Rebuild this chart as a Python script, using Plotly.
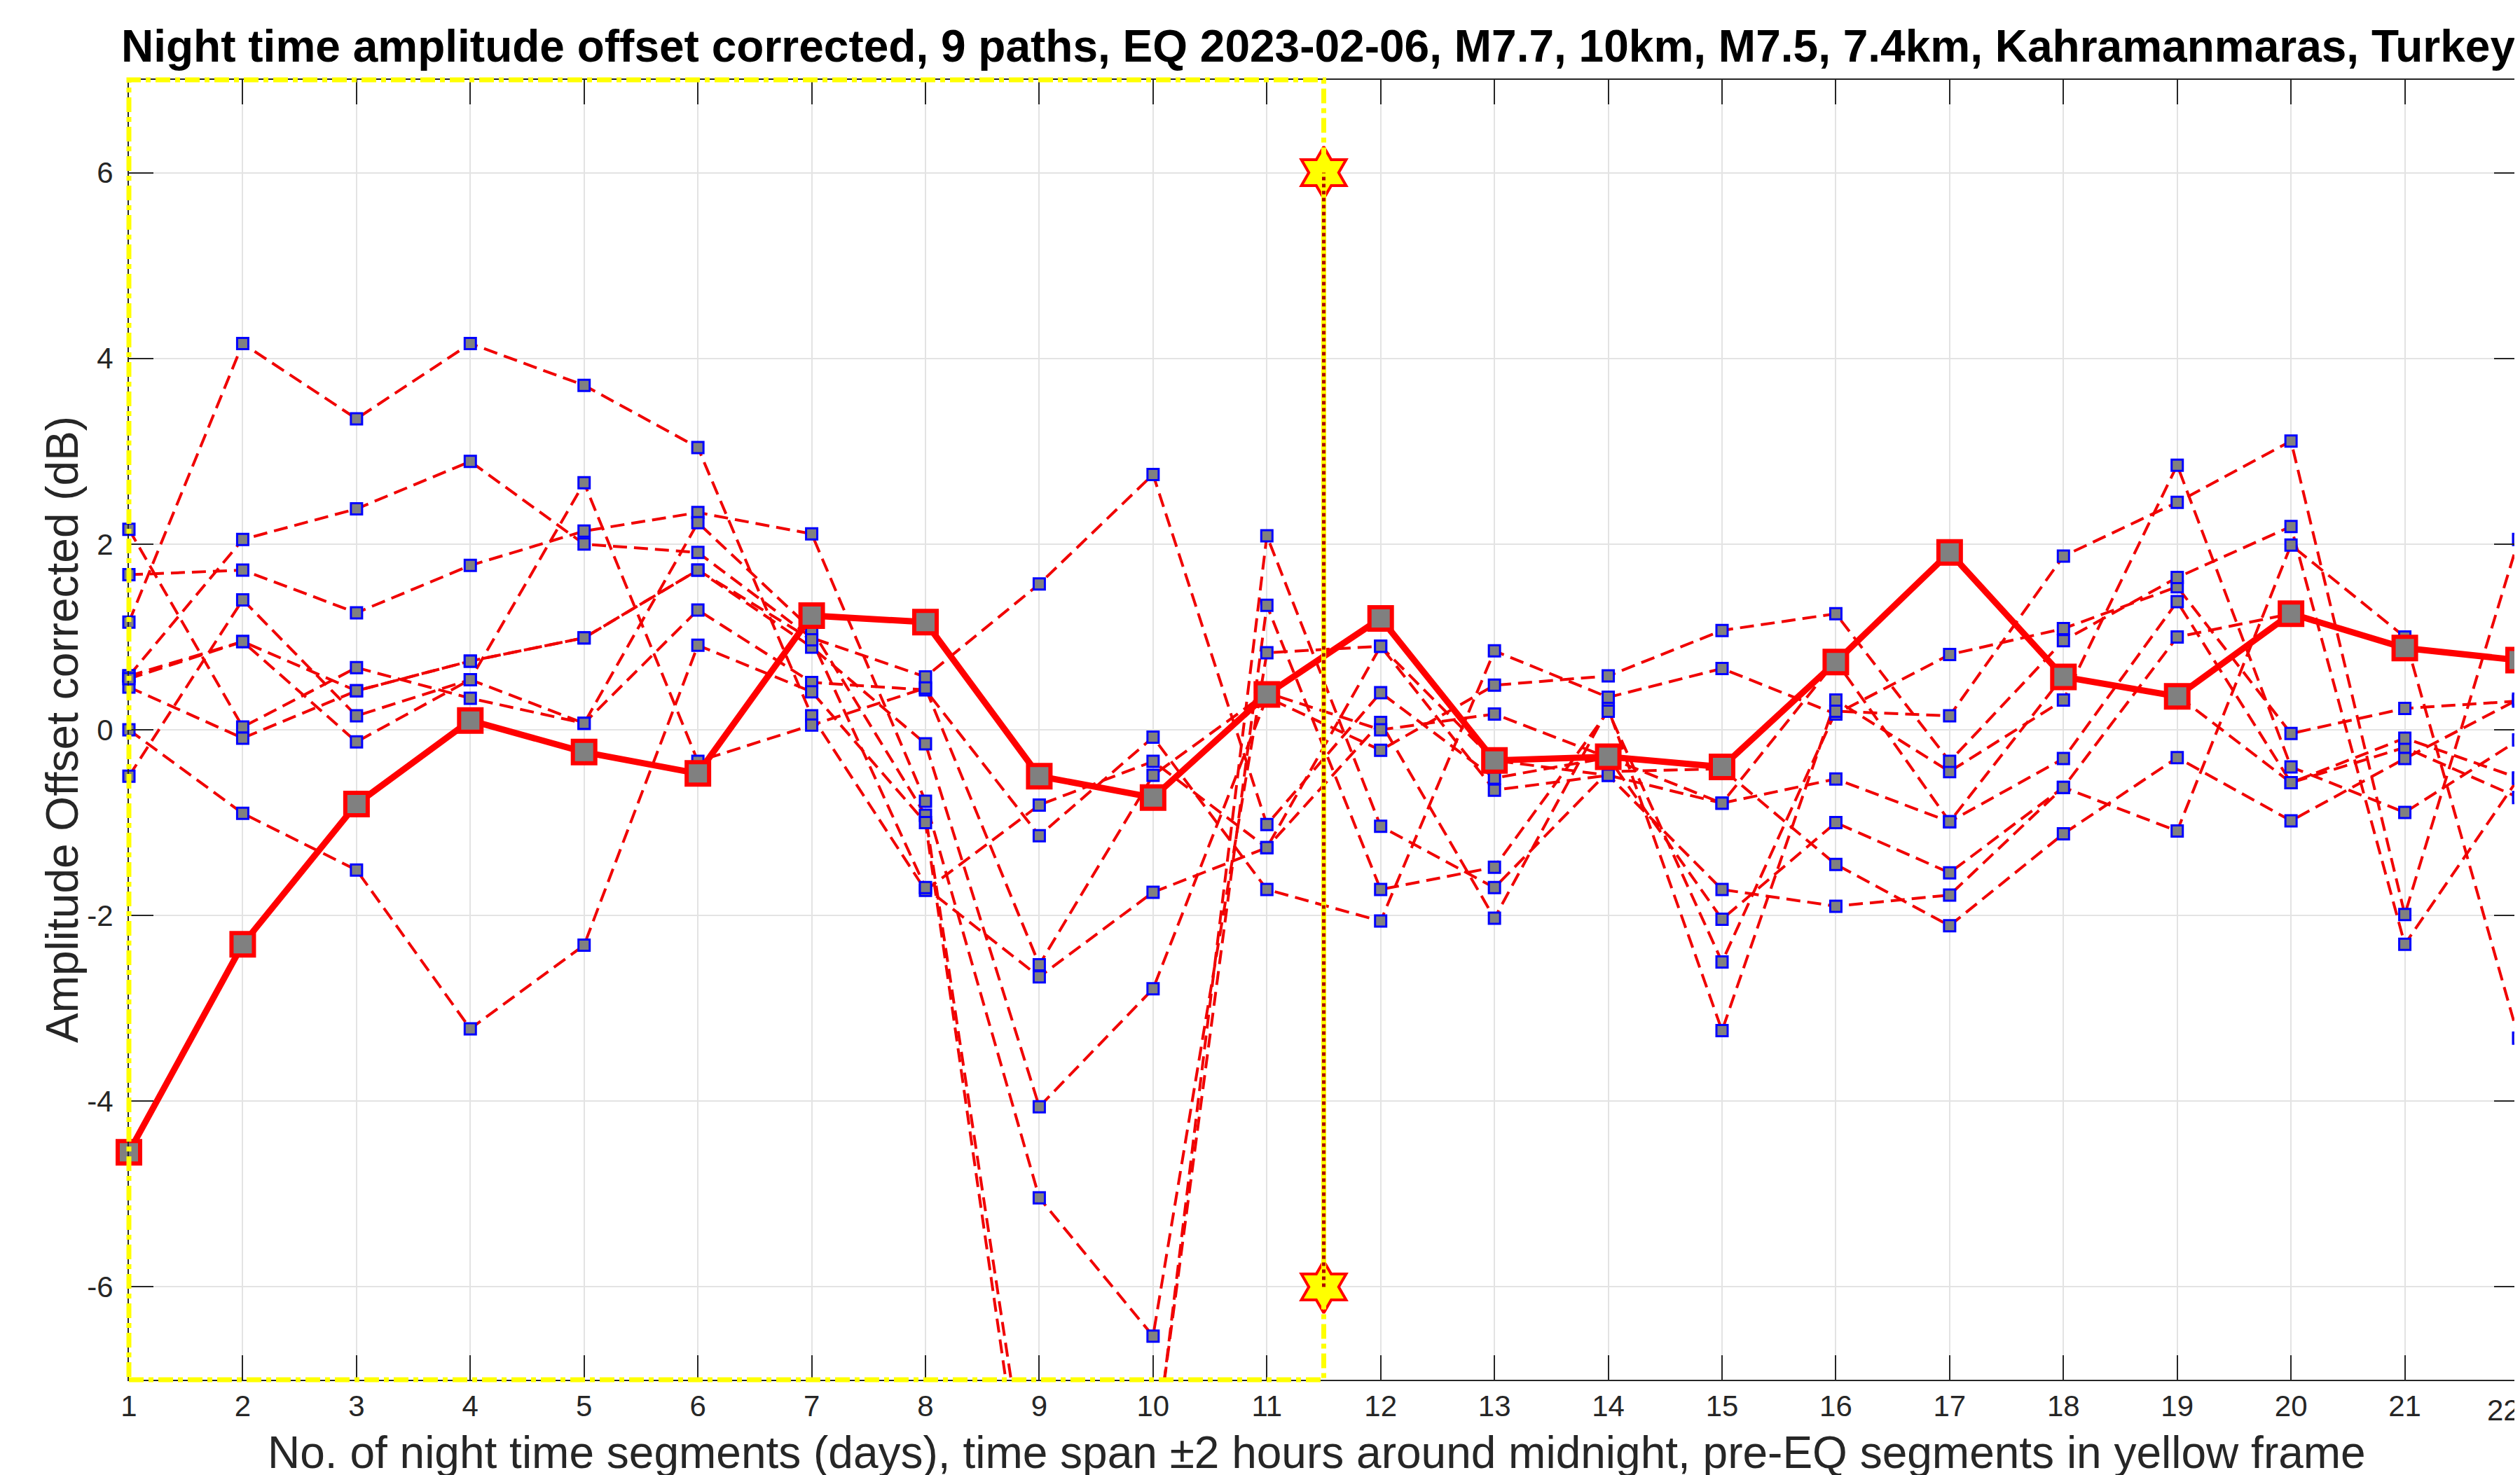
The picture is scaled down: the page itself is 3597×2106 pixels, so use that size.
import plotly.graph_objects as go

# ---------------- data ----------------
days = list(range(1, 23))
x_tick_labels = [str(d) for d in days]
y_ticks = [-6, -4, -2, 0, 2, 4, 6]
x_range = [1, 22]
y_range = [-7, 7]

path1 = [2.16, 0.03, 0.67, 0.34, 0.07, 1.29, 0.51, 0.43, -1.14, -0.08, -1.72, -2.06, 0.85, 0.35, 0.66, 0.17, 0.81, 1.09, 1.54, -0.04, 0.23, 0.31]
path2 = [1.67, 1.72, 1.26, 1.77, 2.14, 2.34, 2.11, -0.77, -5.04, -6.53, 0.83, 0.90, -0.33, -0.49, -1.72, -1.90, -1.78, -0.62, -1.09, 1.99, 1.00, -3.32]
path3 = [1.16, 4.16, 3.35, 4.16, 3.71, 3.04, 0.15, -1.73, -0.81, -0.34, -1.27, 0.08, -2.03, 0.23, -3.24, 0.32, -0.45, 0.32, 2.85, -0.40, -0.89, -0.11]
path4 = [0.58, 2.05, 2.38, 2.89, 2.00, 1.91, 0.99, 0.57, 1.57, 2.75, -1.02, 0.40, -0.52, -0.30, -0.79, -0.53, -0.99, -0.31, 1.38, -0.57, -0.19, -0.73]
path5 = [0.58, 0.95, -0.13, 0.54, 0.07, 2.23, 1.08, -0.92, -9.00, -8.00, 2.09, -1.04, -1.70, -0.45, -0.42, -1.45, -2.11, -1.12, -0.30, -0.98, -0.31, 0.33]
path6 = [0.46, -0.09, 0.42, 0.74, 0.99, 1.72, 0.89, -0.15, -4.06, -2.79, 0.35, -0.22, 0.48, 0.58, 1.07, 1.25, -0.34, 0.96, 1.64, 2.19, -2.31, -0.52]
path7 = [0.00, -0.90, -1.51, -3.22, -2.32, 0.91, 0.41, -1.00, -9.50, -7.93, 1.34, -1.72, -1.48, 0.20, -2.50, 0.20, 0.15, 1.87, 2.45, 3.11, -1.99, 2.05]
path8 = [-0.50, 1.40, 0.15, 0.54, 2.66, -0.34, 0.05, 0.45, -2.53, -0.49, 0.40, 0.00, 0.17, -0.30, -2.04, -1.00, -1.54, -0.62, 1.00, 1.25, 0.88, 0.75]
path9 = [0.55, 0.95, 0.42, 0.74, 0.99, 1.72, 0.97, -1.70, -2.66, -1.75, -1.27, 0.90, -0.65, -0.49, -0.79, 0.74, -0.99, 0.58, 0.37, -0.57, -0.09, -0.52]

mean_amp = [-4.55, -2.31, -0.80, 0.10, -0.24, -0.47, 1.23, 1.16, -0.50, -0.73, 0.38, 1.20, -0.33, -0.29, -0.40, 0.73, 1.91, 0.57, 0.36, 1.25, 0.88, 0.75]

eq_x = 11.5
star_y = [6, -6]
frame_x = [1, 11.5]

title_text = ("Night time amplitude offset corrected, 9 paths, EQ 2023-02-06, M7.7, 10km, "
              "M7.5, 7.4km, Kahramanmaras, Turkey")
x_title = ("No. of night time segments (days), time span \u00b12 hours around midnight, "
           "pre-EQ segments in yellow frame")
y_title = "Amplitude Offset corrected (dB)"

paths = [path1, path2, path3, path4, path5, path6, path7, path8, path9]

# ---------------- figure ----------------
W, H = 3597, 2106
ML, MR, MT, MB = 176, 10, 106, 144
FONT = "Liberation Sans, Arial, Helvetica, sans-serif"
AXC = "#262626"

fig = go.Figure()

# dashed path lines (clipped to the axes)
for i, p in enumerate(paths):
    fig.add_trace(go.Scatter(
        x=days, y=p, mode="lines",
        line=dict(color="#F00000", width=4, dash="20px,10px"),
        showlegend=False, name=f"path {i+1}"))

# path markers (only those inside the visible y range, drawn unclipped at the edges)
for i, p in enumerate(paths):
    xs = [d for d, v in zip(days, p) if y_range[0] <= v <= y_range[1]]
    ys = [v for v in p if y_range[0] <= v <= y_range[1]]
    fig.add_trace(go.Scatter(
        x=xs, y=ys, mode="markers", cliponaxis=False,
        marker=dict(symbol="square", size=16, color="#808080",
                    line=dict(color="#0000FF", width=3)),
        showlegend=False, name=f"path {i+1} markers"))

fig.add_trace(go.Scatter(
    x=days, y=mean_amp, mode="lines+markers", cliponaxis=False,
    line=dict(color="#FF0000", width=9),
    marker=dict(symbol="square", size=32, color="#808080",
                line=dict(color="#FF0000", width=6)),
    showlegend=False, name="mean"))

fig.add_trace(go.Scatter(
    x=[eq_x, eq_x], y=star_y, mode="markers",
    marker=dict(symbol="hexagram", size=56, color="#FFFF00",
                line=dict(color="#FF0000", width=4)),
    showlegend=False, cliponaxis=False, name="EQ"))

# yellow frame (paper coords so the edges are not clipped)
fx0 = (frame_x[0] - x_range[0]) / (x_range[1] - x_range[0])
fx1 = (frame_x[1] - x_range[0]) / (x_range[1] - x_range[0])
fig.add_shape(type="rect", xref="paper", yref="paper", x0=fx0, x1=fx1, y0=0, y1=1,
              line=dict(color="#FFFF00", width=7, dash="dashdot"), layer="above")
# EQ vertical line between the stars
fig.add_shape(type="line", xref="x", yref="y", x0=eq_x, x1=eq_x, y0=star_y[1], y1=star_y[0],
              line=dict(color="#FFFF00", width=7), layer="above")
fig.add_shape(type="line", xref="x", yref="y", x0=eq_x, x1=eq_x, y0=star_y[1], y1=star_y[0],
              line=dict(color="#B00000", width=5, dash="dot"), layer="above")

axis_common = dict(showline=True, linecolor=AXC, linewidth=2, mirror="ticks",
                   ticks="inside", ticklen=35, tickwidth=2, tickcolor=AXC,
                   showgrid=True, gridcolor="#E3E3E3", gridwidth=2, zeroline=False,
                   ticklabeloverflow="allow", automargin=False,
                   tickfont=dict(family=FONT, size=42, color=AXC))

# the last day's label sits at the figure edge: drawn as a right-anchored annotation instead
fig.update_xaxes(range=x_range, tickvals=days[:-1], ticktext=x_tick_labels[:-1],
                 ticklabelstandoff=0, **axis_common)
fig.update_yaxes(range=y_range, tickvals=y_ticks, ticktext=[str(v) for v in y_ticks],
                 ticklabelstandoff=12, **axis_common)

fig.update_layout(
    width=W, height=H, autosize=False,
    margin=dict(l=ML, r=MR, t=MT, b=MB, pad=0, autoexpand=False),
    paper_bgcolor="white", plot_bgcolor="white",
    font=dict(family=FONT, color=AXC),
    annotations=[
        dict(text="<b>" + title_text + "</b>", xref="paper", yref="paper", x=0.5, y=1,
             xshift=-8, yshift=48, xanchor="center", yanchor="middle", showarrow=False,
             font=dict(family=FONT, size=64, color="black")),
        dict(text=x_title, xref="paper", yref="paper", x=0.5, y=0, xshift=-10, yshift=-104,
             xanchor="center", yanchor="middle", showarrow=False,
             font=dict(family=FONT, size=64, color=AXC)),
        dict(text=y_title, xref="paper", yref="paper", x=0, y=0.5, xshift=-95,
             xanchor="center", yanchor="middle", textangle=-90, showarrow=False,
             font=dict(family=FONT, size=64, color=AXC)),
        dict(text=x_tick_labels[-1], xref="x", yref="paper", x=days[-1], y=0,
             xshift=4, yshift=-43, xanchor="right", yanchor="middle", showarrow=False,
             font=dict(family=FONT, size=42, color=AXC)),
    ],
)

fig.write_html("out.html")
